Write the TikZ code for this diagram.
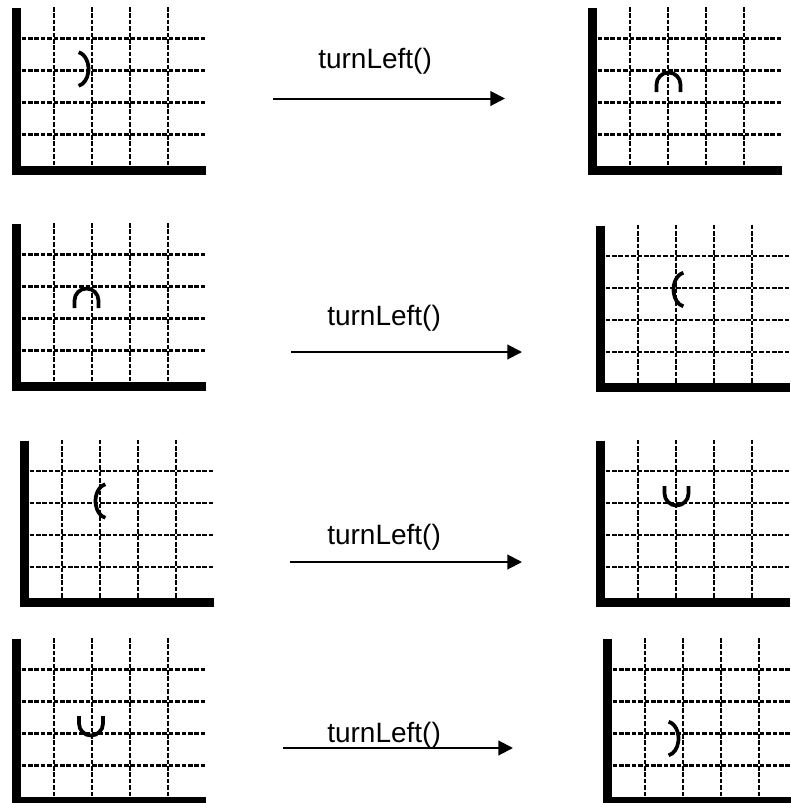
\documentclass[tikz,border=0pt]{standalone}
\usepackage{fontspec}
\setmainfont{Liberation Sans}
\usetikzlibrary{arrows.meta}

\begin{document}
\begin{tikzpicture}[
    x=0.75pt, y=-0.75pt,
    wall/.style={line width=6.75pt, line join=miter},
    gridline/.style={line width=1.9pt, dash pattern=on 3.5pt off 1.3pt},
    robot/.style={line width=2.8pt},
    move/.style={line width=1.5pt, -{Triangle[length=11pt, width=11pt]}},
    cmd/.style={anchor=base west, inner sep=0pt, font=\fontsize{21}{25}\selectfont},
    world/.pic={
        \foreach \gx in {37.5,75.5,113.5,151.5}
            \draw[gridline] (\gx,-163) -- (\gx,0);
        \foreach \gy in {35.5,67.5,99.5,131.5}
            \draw[gridline] (5,-\gy) -- (189,-\gy);
        \draw[wall] (0,-162) -- (0,0) -- (189.5,0);
    },
    face east/.pic={\draw[robot] (-9.9,-16.7) arc[start angle=-80, end angle=80, x radius=12, y radius=17];},
    face west/.pic={\draw[robot] (9.9,-16.7) arc[start angle=260, end angle=100, x radius=12, y radius=17];},
    face north/.pic={\draw[robot] (-12,19.5) -- (-12,12) arc[start angle=180, end angle=360, radius=12] -- (12,19.5);},
    face south/.pic={\draw[robot] (-12,-19.5) -- (-12,-12) arc[start angle=180, end angle=0, radius=12] -- (12,-19.5);}
]
\useasboundingbox (0,0) rectangle (790,803);

\pic at (16.5,170) {world};
\pic at (592.5,170) {world};
\pic at (16.5,386) {world};
\pic at (600.5,387.5) {world};
\pic at (24.5,602.5) {world};
\pic at (600.5,602.5) {world};
\pic at (16.5,801) {world};
\pic at (607.5,801) {world};

\pic at (88.5,69) {face east};
\pic at (668.5,72.5) {face north};
\pic at (86.5,288.5) {face north};
\pic at (673.5,289.5) {face west};
\pic at (95.5,501) {face west};
\pic at (676.5,505.5) {face south};
\pic at (91,735.5) {face south};
\pic at (678.5,738.5) {face east};

\node[cmd] (cmd1) at (318,68) {turnLeft()};
\node[cmd] (cmd2) at (327,325) {turnLeft()};
\node[cmd] (cmd3) at (327,544) {turnLeft()};
\node[cmd] (cmd4) at (327,742) {turnLeft()};

\coordinate (from1) at (273,98.5);
\coordinate (to1) at (505,98.5);
\coordinate (from2) at (291,352);
\coordinate (to2) at (522,352);
\coordinate (from3) at (290,562);
\coordinate (to3) at (522,562);
\coordinate (from4) at (283,748);
\coordinate (to4) at (513,748);
\draw[move] (from1) -- (to1);
\draw[move] (from2) -- (to2);
\draw[move] (from3) -- (to3);
\draw[move] (from4) -- (to4);
\end{tikzpicture}
\end{document}
